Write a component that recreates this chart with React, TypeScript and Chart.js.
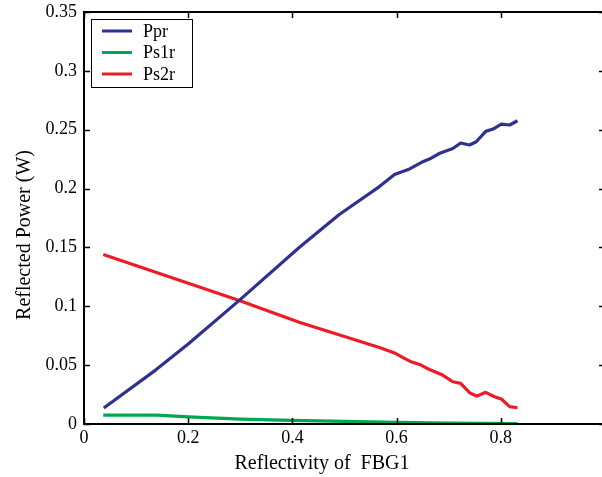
import React, { useEffect, useRef } from "react";
import { Chart, registerables } from "chart.js";

Chart.register(...registerables);

const pprX = [0.038, 0.138, 0.2, 0.298, 0.413, 0.49, 0.567, 0.596, 0.625, 0.648, 0.663, 0.683, 0.696, 0.708, 0.723, 0.74, 0.753, 0.771, 0.785, 0.801, 0.817, 0.832];
const pprY = [0.0136, 0.046, 0.068, 0.105, 0.15, 0.178, 0.2017, 0.212, 0.2167, 0.2223, 0.2251, 0.23, 0.2322, 0.234, 0.2387, 0.237, 0.2398, 0.2486, 0.2506, 0.2548, 0.254, 0.2576];

const ps1rX = [0.037, 0.14, 0.2, 0.3, 0.4, 0.5, 0.6, 0.7, 0.832];
const ps1rY = [0.0076, 0.0076, 0.006, 0.0042, 0.003, 0.0022, 0.0014, 0.0008, 0.0003];

const ps2rX = [0.037, 0.298, 0.413, 0.567, 0.596, 0.615, 0.628, 0.644, 0.663, 0.686, 0.708, 0.723, 0.74, 0.754, 0.771, 0.788, 0.801, 0.817, 0.832];
const ps2rY = [0.144, 0.105, 0.0864, 0.065, 0.0604, 0.0557, 0.0528, 0.0506, 0.0463, 0.0421, 0.0359, 0.0345, 0.0266, 0.0237, 0.0269, 0.0232, 0.0212, 0.0147, 0.0138];

const seriesNames = ["Ppr", "Ps1r", "Ps2r"];
const seriesColors = ["#2E3192", "#00A651", "#ED1C24"];
const xTitle = "Reflectivity of  FBG1";
const yTitle = "Reflected Power (W)";
const xTickValues = [0, 0.2, 0.4, 0.6, 0.8, 1];
const xTickLabels = ["0", "0.2", "0.4", "0.6", "0.8", ""];
const yTickLabels = ["0", "0.05", "0.1", "0.15", "0.2", "0.25", "0.3", "0.35"];

const FONT = "'Liberation Serif', 'Times New Roman', serif";

const pts = (xs: number[], ys: number[]) => xs.map((x, i) => ({ x, y: ys[i] }));

const framePlugin = {
  id: "frame",
  afterDraw(chart: any) {
    const { ctx, chartArea: a, scales } = chart;
    const xs = scales.x;
    const ys = scales.y;
    ctx.save();
    ctx.strokeStyle = "#000";
    ctx.lineWidth = 2;
    ctx.beginPath();
    ctx.rect(a.left, a.top, a.right - a.left, a.bottom - a.top);
    ctx.stroke();
    ctx.lineWidth = 1.5;
    const tl = 6;
    ctx.beginPath();
    xs.ticks.forEach((t: any) => {
      const px = Math.round(xs.getPixelForValue(t.value)) + 0.5;
      ctx.moveTo(px, a.bottom);
      ctx.lineTo(px, a.bottom - tl);
      ctx.moveTo(px, a.top);
      ctx.lineTo(px, a.top + tl);
    });
    ys.ticks.forEach((t: any) => {
      const py = Math.round(ys.getPixelForValue(t.value)) + 0.5;
      ctx.moveTo(a.left, py);
      ctx.lineTo(a.left + tl, py);
      ctx.moveTo(a.right, py);
      ctx.lineTo(a.right - tl, py);
    });
    ctx.stroke();

    // legend
    const lx = a.left + 7, ly = a.top + 7, lw = 101, lh = 68;
    ctx.fillStyle = "#fff";
    ctx.fillRect(lx, ly, lw, lh);
    ctx.lineWidth = 1;
    ctx.strokeStyle = "#000";
    ctx.strokeRect(lx + 0.5, ly + 0.5, lw, lh);
    ctx.font = "18px " + FONT;
    ctx.textBaseline = "middle";
    ctx.textAlign = "left";
    chart.data.datasets.forEach((ds: any, i: number) => {
      const yy = ly + 12 + i * 21.5;
      ctx.strokeStyle = ds.borderColor;
      ctx.lineWidth = 3;
      ctx.beginPath();
      ctx.moveTo(lx + 11, yy);
      ctx.lineTo(lx + 41, yy);
      ctx.stroke();
      ctx.fillStyle = "#000";
      ctx.fillText(ds.label, lx + 52, yy + 1);
    });

    // axis titles
    ctx.font = "20px " + FONT;
    ctx.fillStyle = "#000";
    ctx.textAlign = "center";
    ctx.textBaseline = "alphabetic";
    ctx.fillText(xTitle, 322, 469);
    ctx.translate(30, 235);
    ctx.rotate(-Math.PI / 2);
    ctx.fillText(yTitle, 0, 0);
    ctx.restore();
  },
};

export default function App() {
  const ref = useRef<HTMLCanvasElement>(null);
  useEffect(() => {
    if (!ref.current) return;
    const chart = new Chart(ref.current, {
      type: "line",
      data: {
        datasets: [
          { label: seriesNames[0], data: pts(pprX, pprY), borderColor: seriesColors[0], backgroundColor: seriesColors[0] },
          { label: seriesNames[1], data: pts(ps1rX, ps1rY), borderColor: seriesColors[1], backgroundColor: seriesColors[1] },
          { label: seriesNames[2], data: pts(ps2rX, ps2rY), borderColor: seriesColors[2], backgroundColor: seriesColors[2] },
        ],
      },
      options: {
        animation: false,
        responsive: false,
        devicePixelRatio: 1,
        elements: { point: { radius: 0 }, line: { borderWidth: 3.2, tension: 0, borderJoinStyle: "round", borderCapStyle: "butt" } },
        layout: { padding: { top: 12, right: 7, left: 0, bottom: 0 } },
        plugins: { legend: { display: false }, tooltip: { enabled: false } },
        scales: {
          x: {
            type: "linear",
            min: 0,
            max: 1,
            grid: { display: false, drawTicks: false },
            border: { display: false },
            afterFit: (s: any) => { s.height = 53; s.paddingLeft = 0; s.paddingRight = 0; },
            afterBuildTicks: (s: any) => { s.ticks = xTickValues.map((v) => ({ value: v })); },
            ticks: {
              padding: 3,
              color: "#000",
              font: { family: FONT, size: 18 },
              maxRotation: 0,
              callback: (v: any) => xTickLabels[xTickValues.indexOf(Number(Number(v).toFixed(2)))] ?? "",
            },
          },
          y: {
            min: 0,
            max: 0.35,
            grid: { display: false, drawTicks: false },
            border: { display: false },
            afterFit: (s: any) => { s.width = 84; s.paddingTop = 0; s.paddingBottom = 0; },
            afterBuildTicks: (s: any) => { s.ticks = yTickLabels.map((l) => ({ value: Number(l) })); },
            ticks: {
              padding: 7,
              color: "#000",
              font: { family: FONT, size: 18 },
              callback: (v: any) => yTickLabels.find((l) => Math.abs(Number(l) - Number(v)) < 1e-9) ?? "",
            },
          },
        },
      },
      plugins: [framePlugin],
    });
    return () => chart.destroy();
  }, []);
  return (
    <div style={{ position: "fixed", left: 0, top: 0, width: 602, height: 477, overflow: "hidden", background: "#fff" }}>
      <canvas ref={ref} width={612} height={477} style={{ width: 612, height: 477, display: "block" }} />
    </div>
  );
}
